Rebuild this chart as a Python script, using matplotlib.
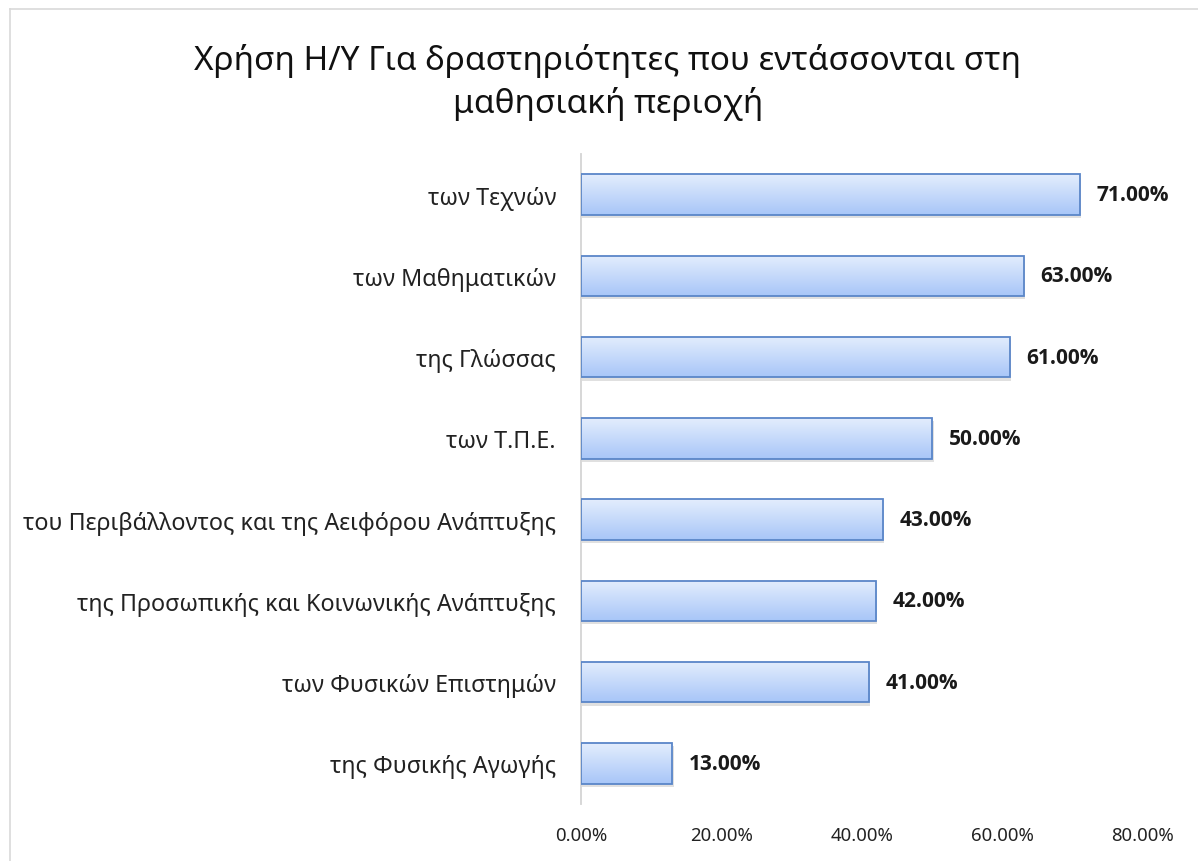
import matplotlib
matplotlib.use("Agg")
import matplotlib.pyplot as plt
import numpy as np
from matplotlib.colors import LinearSegmentedColormap
from matplotlib.patches import Rectangle
from matplotlib.lines import Line2D
from matplotlib.ticker import FuncFormatter

plt.rcParams['font.family'] = ['Noto Sans', 'DejaVu Sans']

title = "Χρήση Η/Υ Για δραστηριότητες που εντάσσονται στη\nμαθησιακή περιοχή"
categories = [
    "των Τεχνών",
    "των Μαθηματικών",
    "της Γλώσσας",
    "των Τ.Π.Ε.",
    "του Περιβάλλοντος και της Αειφόρου Ανάπτυξης",
    "της Προσωπικής και Κοινωνικής Ανάπτυξης",
    "των Φυσικών Επιστημών",
    "της Φυσικής Αγωγής",
]
values = [0.71, 0.63, 0.61, 0.50, 0.43, 0.42, 0.41, 0.13]
xticks = [0.0, 0.2, 0.4, 0.6, 0.8]

fig = plt.figure(figsize=(11.98, 8.62), dpi=100)
ax = fig.add_axes([581/1198, 57/862, (1143-581)/1198, (805-155)/862])

n = len(categories)
ypos = np.arange(n)
bar_h = 0.5

cmap = LinearSegmentedColormap.from_list("g", ["#e3edfd", "#a8c6f8"])
grad = np.linspace(0, 1, 64).reshape(-1, 1)

bars = ax.barh(ypos, values, height=bar_h, color="none", edgecolor="#5a86c8",
               linewidth=1.3, zorder=3)
for b, v in zip(bars, values):
    x0, y0 = b.get_x(), b.get_y()
    w, h = b.get_width(), b.get_height()
    sh = Rectangle((x0 + 0.002, y0 + 0.04), w, h, facecolor="#9a9a9a", alpha=0.3,
                   edgecolor="none", zorder=1)
    ax.add_patch(sh)
    im = ax.imshow(grad, extent=[x0, x0 + w, y0 + h, y0], cmap=cmap, aspect="auto",
                   zorder=2, origin="upper")
    im.set_clip_path(b)
    ax.text(v + 0.024, b.get_y() + h / 2, f"{v*100:.2f}%", va="center", ha="left",
            fontsize=15, fontweight="bold", color="#1a1a1a", zorder=4,
            family=['Open Sans', 'DejaVu Sans'])

ax.set_xlim(0, 0.8)
ax.set_ylim(n - 0.5, -0.5)
ax.set_yticks(ypos)
ax.set_yticklabels(categories, fontsize=16.8, color="#222222")
ax.set_xticks(xticks)
ax.xaxis.set_major_formatter(FuncFormatter(lambda x, p: f"{x*100:.2f}%"))
ax.tick_params(axis="x", labelsize=13.4, length=0, pad=16, colors="#222222")
ax.tick_params(axis="y", length=0, pad=18)
for s in ["top", "right", "bottom"]:
    ax.spines[s].set_visible(False)
ax.spines["left"].set_color("#d4d4d4")
ax.spines["left"].set_linewidth(1.3)

fig.text(608/1198, 0.904, title, ha="center", va="center", fontsize=24, color="#111111",
         linespacing=1.35)

fig.add_artist(Line2D([10/1198, 10/1198], [0, 1 - 10/862], transform=fig.transFigure,
                      color="#d9d9d9", lw=1.2))
fig.add_artist(Line2D([10/1198, 1], [1 - 10/862, 1 - 10/862], transform=fig.transFigure,
                      color="#d9d9d9", lw=1.2))

fig.savefig("out.png", dpi=100)
